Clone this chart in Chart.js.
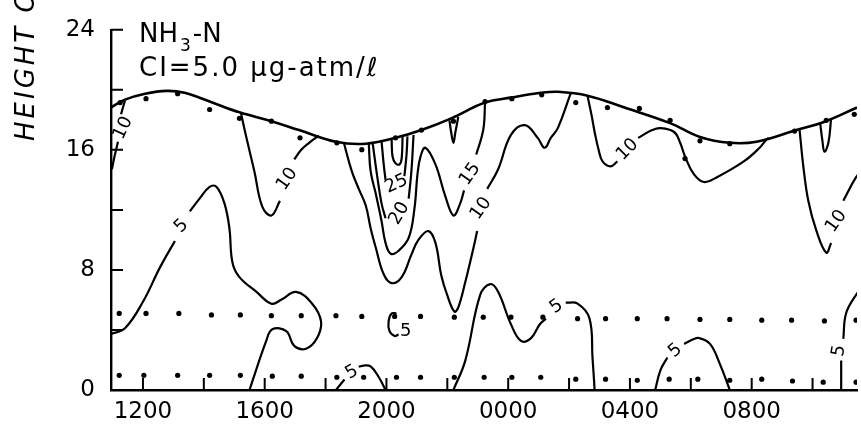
<!DOCTYPE html>
<html>
<head>
<meta charset="utf-8">
<script src="https://cdn.jsdelivr.net/npm/chart.js@4.4.1/dist/chart.umd.min.js"></script>
<style>
  html, body { margin: 0; padding: 0; background: #fff; }
  #wrap { width: 861px; height: 427px; }
</style>
</head>
<body>
<div id="wrap"><canvas id="ammoniaChart"></canvas></div>
<script>
// x = hour of day counted from the first noon (24 = 0000), y = height in m
const X_TICKS = [12, 14, 16, 18, 20, 22, 24, 26, 28, 30, 32, 34];
const Y_TICKS = [0, 4, 8, 12, 16, 20, 24];

// sea surface line and the sampling points
const SURFACE = [[10.95,18.82],[11.41,19.35],[12.07,19.74],[12.78,19.93],[13.37,19.80],[14.19,19.22],[15.17,18.50],[16.22,17.91],[17.13,17.32],[18.34,16.54],[19.32,16.41],[20.30,16.80],[21.15,17.32],[22.13,18.10],[23.24,19.15],[24.09,19.48],[25.07,19.80],[25.63,19.87],[26.61,19.61],[27.82,18.82],[29.32,17.78],[30.30,16.86],[31.28,16.47],[32.16,16.54],[33.47,17.32],[34.35,17.84],[35.46,18.82]];
const SURFACE_DOTS = [[11.25,19.15],[12.10,19.41],[13.14,19.74],[14.19,18.69],[15.17,18.10],[16.22,17.91],[17.16,16.80],[18.37,16.47],[19.19,16.01],[20.30,16.80],[21.15,17.32],[22.20,17.91],[23.24,19.22],[24.12,19.41],[25.10,19.67],[26.22,19.15],[27.26,18.82],[28.31,18.76],[29.32,17.97],[29.81,15.42],[30.30,16.60],[31.28,16.41],[33.41,17.25],[34.45,17.97],[35.37,18.37]];
const MID_DOTS = [[11.22,5.10],[12.10,5.10],[13.18,5.10],[14.25,5.0],[15.20,5.0],[16.22,4.95],[17.20,4.95],[18.34,4.95],[19.19,4.9],[20.27,4.9],[21.12,4.9],[22.23,4.85],[23.18,4.85],[24.09,4.85],[25.14,4.85],[26.28,4.75],[27.20,4.75],[28.24,4.75],[29.22,4.75],[30.30,4.7],[31.28,4.7],[32.33,4.65],[33.31,4.65],[34.39,4.6],[35.43,4.65]];
const LOW_DOTS = [[11.22,0.98],[12.03,0.98],[13.14,0.98],[14.19,0.98],[15.20,0.98],[16.25,0.92],[17.20,0.92],[18.37,0.85],[19.25,0.85],[20.33,0.85],[21.12,0.85],[22.23,0.85],[23.21,0.85],[24.12,0.85],[25.07,0.85],[26.22,0.72],[27.20,0.72],[28.24,0.65],[29.29,0.72],[30.23,0.72],[31.28,0.65],[32.33,0.72],[33.34,0.6],[34.35,0.52],[35.43,0.52]];

// contour segments (CI = 5), split where a label sits on the line
const C10_A1 = [[11.41,19.30],[11.28,18.37]];
const C10_A2 = [[11.18,16.54],[11.08,15.69],[10.98,14.71]];
const C10_B1 = [[15.22,18.45],[15.40,16.80],[15.66,14.58],[15.92,12.22],[16.22,11.63],[16.50,12.60]];
const C10_B2 = [[16.97,15.36],[17.20,16.01],[17.46,16.47],[17.78,16.95]];
const C5_C1 = [[10.95,3.73],[11.41,4.12],[12.00,5.88],[12.56,8.17],[13.05,9.93]];
const C5_C2 = [[13.54,11.90],[13.86,12.75],[14.19,13.53],[14.42,13.53],[14.68,12.42],[14.84,10.78],[14.94,8.50],[15.17,7.52],[15.73,6.54],[16.22,5.75],[16.54,6.01],[17.03,6.54],[17.56,5.75],[17.85,4.58],[17.72,3.46],[17.36,2.75],[16.97,2.94],[16.71,3.92],[16.25,4.05],[16.05,3.27],[15.50,0]];
const C5_D1 = [[22.20,0],[22.59,1.96],[23.08,6.34],[23.41,7.06],[23.67,6.54],[24.09,4.38],[24.42,3.27],[24.75,3.46],[25.04,4.38],[25.24,4.75]];
const C5_D2 = [[25.89,5.82],[26.28,5.75],[26.67,4.77],[26.77,2.16],[26.84,0]];
const C5_E1 = [[18.34,0],[18.62,0.70]];
const C5_E2 = [[19.09,1.55],[19.25,1.63],[19.48,1.57],[19.75,0.85],[19.97,0]];
const C5_F1 = [[28.83,0],[29.00,1.31],[29.23,2.16]];
const C5_F2 = [[29.78,3.07],[30.10,3.40],[30.27,3.46],[30.63,3.07],[30.95,1.76],[31.28,0]];
const C5_G1 = [[34.94,0],[34.94,1.96]];
const C5_G2 = [[35.01,3.40],[35.10,5.10],[35.43,6.34],[35.70,7.00]];
const C5_LOOP = [[20.33,5.10],[20.17,5.10],[20.07,4.58],[20.10,3.92],[20.27,3.60],[20.40,3.70]];
const C10_H1 = [[18.60,16.47],[18.86,14.58],[19.09,13.40],[19.32,12.29],[19.48,10.78],[19.65,9.48],[19.91,7.71],[20.17,7.12],[20.50,7.52],[20.82,9.02],[21.05,10.00],[21.38,10.59],[21.61,9.80],[21.80,7.65],[22.00,6.30],[22.23,5.23],[22.36,5.50],[22.59,7.19],[22.86,9.48],[22.98,10.59]];
const C10_H2 = [[23.31,13.40],[23.67,14.71],[24.09,17.00],[24.55,17.65],[24.97,16.80],[25.20,16.14],[25.40,16.80],[25.63,17.45],[26.05,19.74]];
const C15_1 = [[19.42,16.40],[19.48,14.58],[19.65,13.07],[19.84,11.24],[19.97,9.80],[20.14,9.08],[20.40,9.28],[20.73,10.13],[20.92,12.09],[21.02,14.38],[21.12,15.56],[21.28,16.14],[21.61,15.03],[21.93,12.94],[22.20,11.63],[22.42,12.42],[22.55,13.30]];
const C15_2 = [[22.95,15.69],[23.18,17.32],[23.24,19.15]];
const C20_1 = [[19.55,16.40],[19.71,14.05],[19.84,12.42],[19.97,11.44]];
const C20_2 = [[20.73,12.75],[20.82,14.58],[20.89,16.99]];
const C25_1 = [[19.84,16.55],[19.91,15.03],[19.97,14.00]];
const C25_2 = [[20.59,14.25],[20.66,15.69],[20.69,16.90]];
const C30 = [[20.17,16.70],[20.20,15.56],[20.30,15.10],[20.43,15.03],[20.50,15.43],[20.53,16.90]];
const TRI_1 = [[22.07,17.97],[22.13,17.12],[22.20,16.47],[22.26,17.12],[22.36,18.20]];
const TRI_2 = [[34.25,17.78],[34.32,16.67],[34.39,15.88],[34.52,16.47],[34.61,18.10]];
const C10_K1 = [[26.61,19.55],[26.74,18.30],[26.84,17.19],[26.97,16.01],[27.10,15.23],[27.36,14.90],[27.59,15.23]];
const C10_K2 = [[28.27,16.80],[28.73,17.32],[29.00,17.45],[29.45,17.19],[29.65,16.47],[29.81,15.56],[30.10,14.38],[30.43,13.86],[30.86,14.18],[31.74,15.23],[32.26,16.14],[32.49,16.70],[32.56,16.80]];
const C10_M1 = [[33.57,17.40],[33.70,14.84],[33.86,12.61],[34.12,10.65],[34.45,9.15],[34.61,9.80]];
const C10_M2 = [[35.01,12.61],[35.43,14.18],[35.75,15.00]];

// contour labels: text, hour, height
const CONTOUR_LABELS = [['10',11.35,17.45],['10',16.74,14.05],['5',13.27,10.92],['10',23.11,12.09],['15',22.75,14.38],['25',20.33,13.73],['20',20.43,11.76],['10',27.92,16.01],['10',34.78,11.24],['5',25.59,5.56],['5',18.86,1.18],['5',29.49,2.61],['5',34.87,2.61],['5',20.63,3.92]];
const LABEL_ANGLES = [-65, -55, -45, -55, -55, -25, -60, -45, -55, -35, -30, -40, -80, 0];

const INK = '#000';
const FONT = '"DejaVu Sans", sans-serif';

const SEGMENTS = [C10_A1, C10_A2, C10_B1, C10_B2, C5_C1, C5_C2, C5_D1, C5_D2, C5_E1, C5_E2, C5_F1, C5_F2, C5_G1, C5_G2, C5_LOOP,
  C10_H1, C10_H2, C15_1, C15_2, C20_1, C20_2, C25_1, C25_2, C30, TRI_1, TRI_2, C10_K1, C10_K2, C10_M1, C10_M2];

const pts = arr => arr.map(([x, y]) => ({ x, y }));

const datasets = [];
SEGMENTS.forEach(seg => {
    datasets.push({
        data: pts(seg),
        showLine: true,
        borderColor: INK,
        borderWidth: 2.2,
        pointRadius: 0,
        tension: 0.4
    });
});
datasets.push({ data: pts(SURFACE), showLine: true, borderColor: INK, borderWidth: 2.6, pointRadius: 0, tension: 0.4 });
[SURFACE_DOTS, MID_DOTS, LOW_DOTS].forEach(d => {
    datasets.push({ data: pts(d), showLine: false, pointRadius: 2.6, pointBackgroundColor: INK, pointBorderWidth: 0 });
});

const decor = {
    id: 'decor',
    afterDraw(chart) {
        const ctx = chart.ctx;
        const xs = chart.scales.x, ys = chart.scales.y;
        const left = chart.chartArea.left, bottom = chart.chartArea.bottom;
        ctx.save();
        ctx.strokeStyle = INK;
        ctx.lineWidth = 2;
        ctx.beginPath();
        Y_TICKS.forEach(v => {
            const py = ys.getPixelForValue(v);
            ctx.moveTo(left, py);
            ctx.lineTo(left + 12, py);
        });
        X_TICKS.forEach(v => {
            const px = xs.getPixelForValue(v);
            ctx.moveTo(px, bottom);
            ctx.lineTo(px, bottom - 12);
        });
        ctx.stroke();

        // contour values
        ctx.fillStyle = INK;
        ctx.font = '18px ' + FONT;
        ctx.textAlign = 'center';
        ctx.textBaseline = 'middle';
        CONTOUR_LABELS.forEach(([t, lx, ly], i) => {
            ctx.save();
            ctx.translate(xs.getPixelForValue(lx), ys.getPixelForValue(ly));
            ctx.rotate(LABEL_ANGLES[i] * Math.PI / 180);
            ctx.fillText(t, 0, 0);
            ctx.restore();
        });

        // legend block
        ctx.textAlign = 'left';
        ctx.textBaseline = 'alphabetic';
        ctx.font = '26px ' + FONT;
        ctx.fillText('NH', 139, 42);
        const w = ctx.measureText('NH').width;
        ctx.font = '17px ' + FONT;
        ctx.fillText('3', 141 + w, 51);
        const w3 = ctx.measureText('3').width;
        ctx.font = '26px ' + FONT;
        ctx.fillText('-N', 143 + w + w3, 42);
        ctx.letterSpacing = '2px';
        ctx.fillText('CI=5.0 \u00b5g-atm/\u2113', 139, 76);

        // axis title, cut at the top of the frame
        ctx.font = 'italic 26px ' + FONT;
        ctx.letterSpacing = '3px';
        ctx.translate(34, 141);
        ctx.rotate(-Math.PI / 2);
        ctx.fillText('HEIGHT OFF BOTTOM (m)', 0, 0);
        ctx.restore();
    }
};

new Chart(document.getElementById('ammoniaChart').getContext('2d'), {
    type: 'scatter',
    data: { datasets },
    options: {
        responsive: true,
        maintainAspectRatio: false,
        animation: false,
        layout: { padding: { left: 0, right: 0, top: 22, bottom: 0 } },
        plugins: { legend: { display: false }, tooltip: { enabled: false } },
        scales: {
            x: {
                type: 'linear',
                min: 10.95,
                max: 35.46,
                afterBuildTicks: s => { s.ticks = X_TICKS.map(v => ({ value: v })); },
                afterFit: s => { s.height = 37; },
                grid: { display: false, drawTicks: false },
                border: { display: true, color: INK, width: 2.4 },
                ticks: {
                    autoSkip: false,
                    maxRotation: 0,
                    padding: 8,
                    color: INK,
                    font: { family: 'DejaVu Sans', size: 23 },
                    callback: v => (v % 4 === 0 ? String(v % 24).padStart(2, '0') + '00' : '')
                }
            },
            y: {
                type: 'linear',
                min: 0,
                max: 24,
                afterBuildTicks: s => { s.ticks = Y_TICKS.map(v => ({ value: v })); },
                afterFit: s => { s.width = 111; },
                grid: { display: false, drawTicks: false },
                border: { display: true, color: INK, width: 2.4 },
                ticks: {
                    padding: 16,
                    color: INK,
                    font: { family: 'DejaVu Sans', size: 23 },
                    callback: v => (v % 8 === 0 ? String(v) : '')
                }
            }
        }
    },
    plugins: [decor]
});
</script>
</body>
</html>
